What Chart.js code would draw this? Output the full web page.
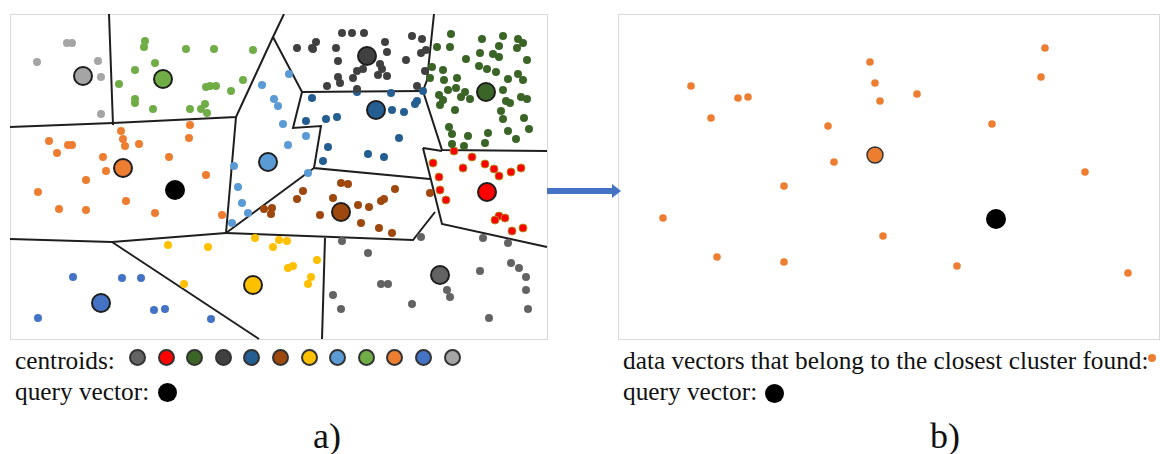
<!DOCTYPE html>
<html>
<head>
<meta charset="utf-8">
<script src="https://cdn.jsdelivr.net/npm/chart.js@4.4.1/dist/chart.umd.min.js"></script>
<style>
  html, body { margin: 0; padding: 0; background: #fff; }
  body { width: 1160px; height: 454px; position: relative; overflow: hidden;
         font-family: 'Liberation Serif', 'Times New Roman', serif; color: #111; }
  canvas { position: absolute; }
  #chartA { left: 10px; top: 14px; }
  #chartB { left: 618px; top: 14px; }
  .txt { position: absolute; font-size: 25.3px; line-height: 25px; white-space: nowrap; }
  .cap { position: absolute; font-size: 36px; line-height: 36px; }
  .dot { position: absolute; border-radius: 50%; box-sizing: border-box; }
  .shaft { position: absolute; left: 547px; top: 188px; width: 66px; height: 6px; background: #4472c4; }
  .head { position: absolute; left: 612px; top: 184px; width: 0; height: 0;
          border-top: 7px solid transparent; border-bottom: 7px solid transparent;
          border-left: 9px solid #4472c4; }
</style>
</head>
<body>
<canvas id="chartA" width="538" height="326"></canvas>
<canvas id="chartB" width="542" height="326"></canvas>
<div class="shaft"></div><div class="head"></div>

<div class="txt" style="left:15px; top:348px;">centroids:</div>
<div class="txt" style="left:15px; top:379px;">query vector:</div>
<div id="legendA"></div>
<div class="txt" style="left:623px; top:348px;">data vectors that belong to the closest cluster found:</div>
<div class="txt" style="left:623px; top:379px;">query vector:</div>
<div id="legendB"></div>
<div class="cap" style="left:313px; top:418px;">a)</div>
<div class="cap" style="left:930px; top:418px;">b)</div>

<script>
// ─── COLORS ───────────────────────────────────────────────
const C = {
  grayLight: '#a5a5a5',
  green:     '#70ad47',
  darkGray:  '#404040',
  darkGreen: '#3b6427',
  darkBlue:  '#255e91',
  lightBlue: '#5b9bd5',
  orange:    '#ed7d31',
  red:       '#ff0000',
  brown:     '#9e480e',
  yellow:    '#ffc000',
  blue:      '#4472c4',
  midGray:   '#636363',
  edge:      '#1e1e1e',
  frame:     '#d9d9d9',
};

// ─── DATA: panel a) cluster members (x, y in picture units) ─
const grayLightPts = [[67,43],[72,43],[37,62],[98,61],[101,77],[101,114]];
const greenPts = [[145,41],[144,47],[186,49],[214,49],[253,50],[155,63],[135,70],[119,84],[135,99],[135,103],
  [153,109],[190,109],[201,109],[205,104],[207,113],[206,87],[210,86],[216,86],[231,91],[243,80]];
const darkGrayPts = [[342,33],[352,33],[364,33],[297,48],[312,48],[316,42],[313,49],[336,48],[338,61],[385,42],
  [387,52],[412,36],[422,39],[406,60],[421,53],[426,50],[380,64],[382,69],[357,71],[363,69],[353,78],[338,77],
  [340,83],[378,75],[387,76],[425,71],[327,86],[357,89],[417,86]];
const darkGreenPts = [[451,34],[482,39],[503,36],[518,39],[523,43],[437,47],[450,47],[499,46],[517,48],[480,53],
  [493,54],[499,57],[466,59],[527,60],[479,66],[487,69],[432,67],[443,70],[496,72],[518,74],[430,78],[444,80],
  [457,78],[523,80],[508,79],[448,90],[456,88],[465,92],[439,95],[443,100],[461,97],[470,99],[506,101],[510,103],
  [521,97],[527,99],[503,90],[440,105],[455,110],[501,111],[503,119],[524,118],[449,127],[452,134],[468,136],
  [488,133],[508,131],[529,129],[516,139],[485,143],[452,144],[464,146]];
const darkBluePts = [[312,98],[357,92],[391,93],[423,91],[417,101],[415,104],[392,110],[404,112],[326,119],
  [337,117],[306,121],[399,138],[328,147],[368,154],[384,157],[323,161]];
const lightBluePts = [[262,85],[289,74],[274,99],[278,106],[283,124],[306,136],[288,145],[308,173],[234,166],
  [238,187],[242,203],[248,213],[232,223]];
const orangePts = [[190,125],[189,138],[121,131],[123,139],[125,146],[49,141],[68,145],[72,145],[57,153],
  [103,157],[139,144],[169,157],[106,171],[206,175],[86,180],[38,192],[126,201],[59,209],[86,210],[155,213],[222,215]];
const redPts = [[454,151],[472,157],[433,163],[485,164],[494,169],[511,172],[521,168],[463,168],[439,177],
  [499,176],[440,190],[446,200],[499,216],[495,220],[505,218],[512,231],[523,228]];
const brownPts = [[341,183],[348,184],[303,191],[297,199],[333,198],[358,205],[369,207],[381,201],[384,199],
  [395,189],[430,193],[320,215],[361,223],[379,228],[392,233],[264,209],[272,208],[271,214]];
const yellowPts = [[168,245],[208,247],[255,238],[273,247],[279,240],[287,241],[317,260],[288,268],[293,266],
  [311,277],[308,284],[184,284]];
const bluePts = [[73,277],[122,278],[141,278],[154,310],[165,309],[211,319],[38,318]];
const midGrayPts = [[342,241],[368,253],[421,237],[483,238],[508,243],[511,263],[519,268],[526,277],[526,290],
  [528,309],[480,271],[447,290],[450,297],[381,284],[388,284],[333,295],[341,309],[412,304],[489,318]];

// centroids, in legend order
const centroidNames = ['midGray','red','darkGreen','darkGray','darkBlue','brown','yellow','lightBlue','green','orange','blue','grayLight'];
const centroidPts = [[440,275],[487,192],[486,92],[367,56],[376,110],[341,212],[253,285],[268,162],[163,79],[123,168],[101,303],[83,76]];
const queryA = [175,190];

// cell borders (polylines)
const borders = [
  [[109,14],[113,125]],
  [[10,127],[113,123],[236,117],[273,37],[284,14]],
  [[273,37],[302,92],[423,91]],
  [[434,14],[427,80],[423,91],[442,150],[547,151]],
  [[302,92],[293,128],[321,126],[314,168],[430,179]],
  [[236,117],[226,233]],
  [[10,239],[112,242],[226,233]],
  [[226,233],[314,168]],
  [[226,233],[413,240],[435,212]],
  [[112,242],[259,339]],
  [[325,238],[322,339]],
  [[423,148],[442,151]],
  [[423,148],[442,224],[547,247]],
];

// ─── DATA: panel b) closest cluster ──────────────────────
const clusterPts = [[870,62],[875,83],[880,101],[691,86],[738,98],[748,97],[711,118],[828,126],[834,162],
  [784,186],[663,218],[717,257],[784,262],[883,236],[1045,48],[1041,77],[917,94],[992,124],[1085,172],
  [957,266],[1128,273]];
const clusterCentroid = [875,155];
const queryB = [996,219];

// ─── HELPERS ──────────────────────────────────────────────
const xy = arr => arr.map(([x, y]) => ({ x, y }));

const framePlugin = {
  id: 'frame',
  beforeDatasetsDraw(chart) {
    const { ctx, chartArea: a } = chart;
    ctx.save();
    ctx.strokeStyle = C.frame;
    ctx.lineWidth = 1;
    ctx.strokeRect(a.left + 0.5, a.top + 0.5, a.width - 1, a.height - 1);
    ctx.restore();
  },
};

function dots(data, color, extra = {}) {
  return {
    data: xy(data),
    backgroundColor: color,
    borderWidth: 0,
    pointRadius: 4,
    pointHoverRadius: 4,
    clip: false,
    order: 2,
    ...extra,
  };
}

function baseOptions(xmin, xmax) {
  return {
    responsive: false,
    animation: false,
    events: [],
    layout: { padding: 0, autoPadding: false },
    plugins: { legend: { display: false }, tooltip: { enabled: false } },
    scales: {
      x: { type: 'linear', min: xmin, max: xmax, display: false },
      y: { type: 'linear', min: 14, max: 340, reverse: true, display: false },
    },
  };
}

// ─── PANEL A ──────────────────────────────────────────────
function buildPanelA() {
  const lines = borders.map(b => ({
    data: xy(b),
    showLine: true,
    borderColor: C.edge,
    borderWidth: 2,
    pointRadius: 0,
    tension: 0,
    clip: false,
    order: 3,
  }));

  const members = [
    dots(grayLightPts, C.grayLight),
    dots(greenPts, C.green),
    dots(darkGrayPts, C.darkGray),
    dots(darkGreenPts, C.darkGreen),
    dots(darkBluePts, C.darkBlue),
    dots(lightBluePts, C.lightBlue),
    dots(orangePts, C.orange),
    dots(redPts, C.red, { borderWidth: 1, borderColor: '#b58a12' }),
    dots(brownPts, C.brown),
    dots(yellowPts, C.yellow),
    dots(bluePts, C.blue),
    dots(midGrayPts, C.midGray),
  ];

  const centroids = {
    data: xy(centroidPts),
    backgroundColor: centroidNames.map(n => C[n]),
    borderColor: C.edge,
    borderWidth: 2,
    pointRadius: 9,
    clip: false,
    order: 1,
  };

  const query = {
    data: xy([queryA]),
    backgroundColor: '#000',
    borderWidth: 0,
    pointRadius: 10,
    clip: false,
    order: 0,
  };

  new Chart(document.getElementById('chartA'), {
    type: 'scatter',
    data: { datasets: [query, centroids, ...members, ...lines] },
    options: baseOptions(10, 548),
    plugins: [framePlugin],
  });

  // legend swatches
  const el = document.getElementById('legendA');
  el.innerHTML = centroidNames.map((n, i) =>
    `<span class="dot" style="left:${129 + i * 28.6}px; top:349px; width:17px; height:17px; background:${C[n]}; border:2px solid #333"></span>`
  ).join('') +
    `<span class="dot" style="left:158px; top:383px; width:19px; height:19px; background:#000"></span>`;
}

// ─── PANEL B ──────────────────────────────────────────────
function buildPanelB() {
  new Chart(document.getElementById('chartB'), {
    type: 'scatter',
    data: {
      datasets: [
        { data: xy([queryB]), backgroundColor: '#000', borderWidth: 0, pointRadius: 10, clip: false, order: 0 },
        { data: xy([clusterCentroid]), backgroundColor: C.orange, borderColor: '#333', borderWidth: 1.5,
          pointRadius: 8, clip: false, order: 1 },
        dots(clusterPts, C.orange, { pointRadius: 3.8 }),
      ],
    },
    options: baseOptions(618, 1160),
    plugins: [framePlugin],
  });

  const el = document.getElementById('legendB');
  el.innerHTML =
    `<span class="dot" style="left:1148px; top:354px; width:8px; height:8px; background:${C.orange}"></span>` +
    `<span class="dot" style="left:765px; top:384px; width:19px; height:19px; background:#000"></span>`;
}

// ─── INIT ──────────────────────────────────────────────────
buildPanelA();
buildPanelB();
</script>
</body>
</html>
